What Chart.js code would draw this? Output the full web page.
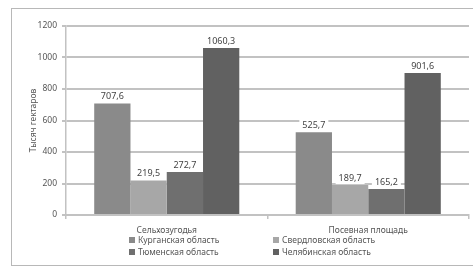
<!DOCTYPE html>
<html>
<head>
<meta charset="utf-8">
<script src="https://cdn.jsdelivr.net/npm/chart.js@4"></script>
<style>
  body { margin: 0; background: #fff; }
  #wrap { position: relative; width: 473px; height: 268px; overflow: hidden; }
  #frame { position: absolute; left: 11px; top: 8px; width: 470px; height: 258px; border: 1px solid #b8b8b8; box-sizing: border-box; }
  canvas { position: absolute; left: 0; top: 0; }
  .leg { position: absolute; font: 8.5px "Noto Sans", sans-serif; color: #555; white-space: nowrap; }
  .leg i { display: inline-block; width: 6px; height: 6px; margin-right: 3px; vertical-align: 0px; }
</style>
</head>
<body>
<div id="wrap">
  <div id="frame"></div>
  <canvas id="chart" width="473" height="268"></canvas>
  <div id="legend"></div>
</div>
<script>
const categories = ['Сельхозугодья', 'Посевная площадь'];
const regions = ['Курганская область', 'Свердловская область', 'Тюменская область', 'Челябинская область'];
const kurgan = [707.6, 525.7];
const sverdlovsk = [219.5, 189.7];
const tyumen = [272.7, 165.2];
const chelyabinsk = [1060.3, 901.6];
const yTicks = [0, 200, 400, 600, 800, 1000, 1200];
const colors = ['#8a8a8a', '#a7a7a7', '#6f6f6f', '#616161'];

const seriesValues = [kurgan, sverdlovsk, tyumen, chelyabinsk];

// подписи значений над столбцами (с белой подложкой)
const valueLabels = {
    id: 'valueLabels',
    afterDatasetsDraw(chart) {
        const ctx = chart.ctx;
        ctx.save();
        ctx.font = '9px "Noto Sans", sans-serif';
        ctx.textAlign = 'center';
        ctx.textBaseline = 'middle';
        chart.data.datasets.forEach((ds, i) => {
            chart.getDatasetMeta(i).data.forEach((bar, j) => {
                const txt = ds.data[j].toFixed(1).replace('.', ',');
                const w = ctx.measureText(txt).width;
                const y = bar.y - 7;
                ctx.fillStyle = '#fff';
                ctx.fillRect(bar.x - w / 2 - 3, y - 6, w + 6, 12);
                ctx.fillStyle = '#444';
                ctx.fillText(txt, bar.x, y);
            });
        });
        ctx.restore();
    }
};

new Chart(document.getElementById('chart'), {
    type: 'bar',
    data: {
        labels: categories,
        datasets: regions.map((r, i) => ({
            label: r,
            data: seriesValues[i],
            backgroundColor: colors[i],
            borderWidth: 0,
            categoryPercentage: 0.72,
            barPercentage: 1
        }))
    },
    options: {
        responsive: false,
        animation: false,
        layout: { padding: { left: 11, top: 26, right: 4, bottom: 0 } },
        plugins: { legend: { display: false }, tooltip: { enabled: false } },
        scales: {
            y: {
                min: yTicks[0],
                max: yTicks[yTicks.length - 1],
                afterBuildTicks: s => { s.ticks = yTicks.map(v => ({ value: v })); },
                ticks: { color: '#555', padding: 5, font: { family: 'Noto Sans', size: 8.5 }, callback: v => String(v) },
                grid: { color: '#c2c2c2', lineWidth: 2, tickLength: 4 },
                border: { color: '#c2c2c2', width: 1.5 },
                title: { display: true, text: 'Тысяч гектаров', color: '#555', font: { family: 'Noto Sans', size: 8.5 }, padding: { top: 17, bottom: 0 } },
                afterFit: s => { s.width = 55; }
            },
            x: {
                ticks: { color: '#555', padding: 6, font: { family: 'Noto Sans', size: 8.5 } },
                grid: { offset: true, drawOnChartArea: false, color: '#c2c2c2', lineWidth: 1.5, tickLength: 4 },
                border: { color: '#c2c2c2', width: 2 },
                afterFit: s => { s.height = 53; }
            }
        }
    },
    plugins: [valueLabels]
});

// легенда в две колонки
const legendPos = [[129, 240], [273, 240], [129, 252], [273, 252]];
const legend = document.getElementById('legend');
regions.forEach((r, i) => {
    const d = document.createElement('div');
    d.className = 'leg';
    d.style.left = legendPos[i][0] + 'px';
    d.style.top = (legendPos[i][1] - 6) + 'px';
    d.innerHTML = `<i style="background:${colors[i]}"></i>${r}`;
    legend.appendChild(d);
});
</script>
</body>
</html>
